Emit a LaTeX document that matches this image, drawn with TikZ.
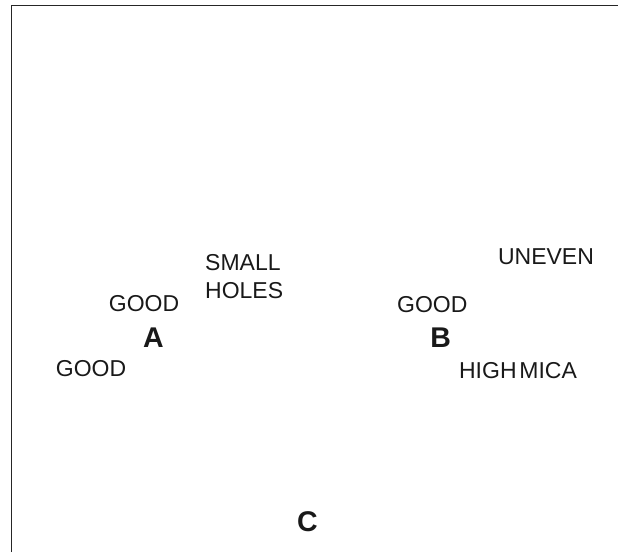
\documentclass[tikz,border=0pt]{standalone}
\usepackage{fontspec}
\setmainfont{Liberation Sans}
\begin{document}
\begin{tikzpicture}[x=1pt,y=-1pt,
  lbl/.style={inner sep=0pt, anchor=base, font=\fontsize{23}{27}\selectfont, text=black!90},
  big/.style={inner sep=0pt, anchor=base, font=\fontsize{28.5}{32}\selectfont\bfseries, text=black!90}]
\useasboundingbox (0,0) rectangle (618,552);
\draw[line width=1.3pt, black!85] (11.5,552) -- (11.5,5.5) coordinate (tl) -- (618,5.5);
\node[lbl, anchor=base west] (small) at (205,270) {SMALL};
\node[lbl, anchor=base west] (holes) at (205,298.5) {HOLES};
\node[lbl] (goodA1) at (144,311.5) {GOOD};
\node[big] (A) at (153.5,347.3) {A};
\node[lbl] (goodA2) at (91,376.5) {GOOD};
\node[lbl] (uneven) at (546,264.3) {UNEVEN};
\node[lbl] (goodB) at (432.3,312) {GOOD};
\node[big] (B) at (440.7,347.3) {B};
\node[lbl] (mica) at (518,378) {HIGH\hspace{0.12em}MICA};
\node[big] (C) at (307.5,531.5) {C};
\end{tikzpicture}
\end{document}
